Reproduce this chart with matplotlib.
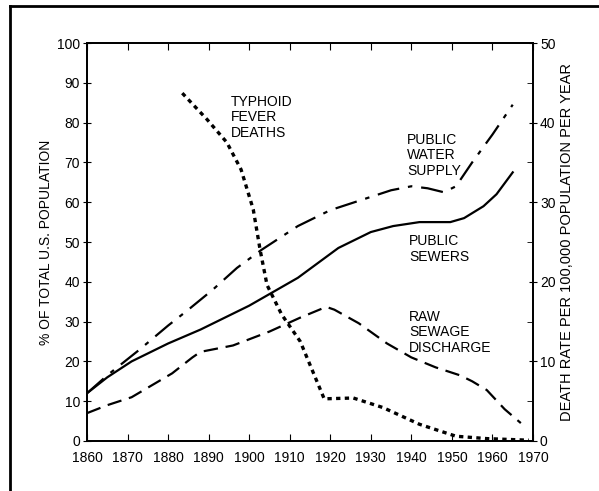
import matplotlib
matplotlib.use("Agg")
import matplotlib.pyplot as plt
from matplotlib.lines import Line2D
from matplotlib.ticker import MultipleLocator

plt.rcParams['font.family'] = ['Liberation Sans', 'DejaVu Sans']

# Public water supply (% of population)
water_years = [1860, 1865, 1873, 1880, 1885, 1891, 1897, 1903, 1912, 1920, 1929, 1935, 1940, 1944, 1948, 1951, 1955, 1960, 1965]
water_pct = [12, 16.5, 23, 29, 33, 38, 43.5, 48, 54, 58, 61, 63, 64, 63.5, 62.5, 64, 70, 77, 84.5]

# Public sewers (% of population)
sewer_years = [1860, 1865, 1871, 1880, 1888, 1900, 1912, 1922, 1930, 1935.5, 1942, 1949.6, 1953, 1957.8, 1961, 1965]
sewer_pct = [12, 16, 20, 24.5, 28, 34, 41, 48.5, 52.5, 54, 55, 55, 56, 59, 62, 67.5]

# Raw sewage discharge (% of population)
raw_years = [1860, 1865, 1871, 1881, 1886, 1888, 1896, 1905, 1912.6, 1919, 1921, 1927, 1934, 1940, 1946, 1952, 1955, 1958.6, 1963, 1967]
raw_pct = [7, 9, 11, 17, 21, 22.4, 24, 27.5, 31, 33.7, 33, 29.6, 24.5, 21, 18.5, 16.5, 15, 12.8, 8, 4.5]

# Typhoid fever deaths (per 100,000 population per year)
typh_years = [1883.5, 1889.6, 1894.5, 1898, 1901, 1902.7, 1904.4, 1908, 1912.6, 1918.5, 1925.7, 1933, 1942, 1951, 1958.6, 1969]
typh_rate = [43.7, 40.4, 37.5, 34.1, 29.1, 24, 19.6, 15.9, 12.5, 5.3, 5.4, 4.2, 2.1, 0.6, 0.3, 0.1]

x_ticks = list(range(1860, 1971, 10))
left_ticks = list(range(0, 101, 10))
right_ticks = list(range(0, 51, 10))

fig = plt.figure(figsize=(5.99, 4.91), dpi=100)
ax = fig.add_axes([87/599, 1-441/491, (533-87)/599, (441-43)/491])
ax2 = ax.twinx()

lw = 1.6
ax.plot(water_years, water_pct, color='black', lw=lw, linestyle=(0, (10, 4, 2, 4)))
ax.plot(sewer_years, sewer_pct, color='black', lw=lw, linestyle='-')
ax.plot(raw_years, raw_pct, color='black', lw=lw, linestyle=(0, (6.5, 3.5)))
ax2.plot(typh_years, typh_rate, color='black', lw=2.4, linestyle=(0, (1.3, 1.3)))

ax.set_xlim(1860, 1970)
ax.set_ylim(0, 100)
ax2.set_ylim(0, 50)
ax.set_xticks(x_ticks)
ax.set_yticks(left_ticks)
ax2.set_yticks(right_ticks)
ax2.yaxis.set_minor_locator(MultipleLocator(5))

fs = 10
ax.tick_params(axis='x', direction='in', top=True, labelsize=fs, length=5, pad=7)
ax.tick_params(axis='y', direction='inout', labelsize=fs, length=6, pad=2)
ax2.tick_params(axis='y', which='major', direction='inout', labelsize=fs, length=6, pad=2)
ax2.tick_params(axis='y', which='minor', direction='in', length=4)

for a in (ax, ax2):
    for s in a.spines.values():
        s.set_linewidth(1.3)

ax.set_ylabel('% OF TOTAL U.S. POPULATION', fontsize=10, labelpad=3)
ax2.set_ylabel('DEATH RATE PER 100,000 POPULATION PER YEAR', fontsize=10.5, labelpad=3)

ax.text(1895.5, 87, 'TYPHOID\nFEVER\nDEATHS', fontsize=fs, va='top', ha='left', linespacing=1.15)
ax.text(1939, 77.5, 'PUBLIC\nWATER\nSUPPLY', fontsize=fs, va='top', ha='left', linespacing=1.15)
ax.text(1939.5, 52, 'PUBLIC\nSEWERS', fontsize=fs, va='top', ha='left', linespacing=1.15)
ax.text(1939.5, 33, 'RAW\nSEWAGE\nDISCHARGE', fontsize=fs, va='top', ha='left', linespacing=1.15)

# scanned page frame
fig.add_artist(Line2D([10/599, 10/599], [1-6/491, 0], transform=fig.transFigure, color='black', lw=2))
fig.add_artist(Line2D([10/599, 1], [1-6/491, 1-6/491], transform=fig.transFigure, color='black', lw=2))

fig.savefig('out.png', dpi=100)
